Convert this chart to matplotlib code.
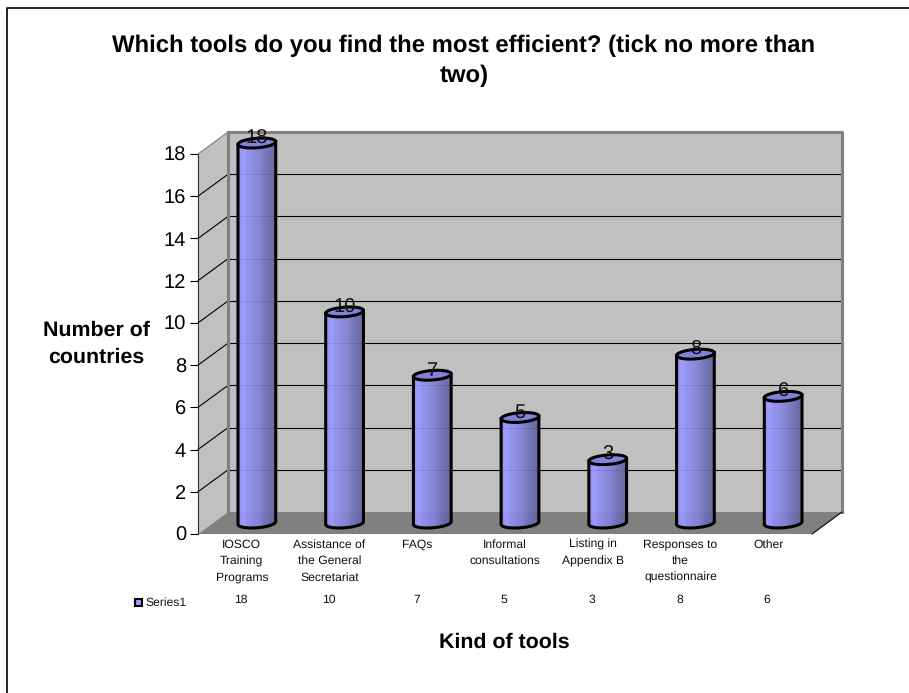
import numpy as np
import matplotlib
matplotlib.use('Agg')
import matplotlib.pyplot as plt
from matplotlib.lines import Line2D
from matplotlib.patches import PathPatch, Polygon
from matplotlib.patches import Rectangle
from matplotlib.path import Path

categories = ['IOSCO\nTraining\nPrograms', 'Assistance of\nthe General\nSecretariat', 'FAQs',
              'Informal\nconsultations', 'Listing in\nAppendix B', 'Responses to\nthe\nquestionnaire', 'Other']
counts = [18, 10, 7, 5, 3, 8, 6]
y_ticks = [0, 2, 4, 6, 8, 10, 12, 14, 16, 18]

W, H = 909, 693
DEPTH_X = 0.342   # wall depth, in category units
DEPTH_Y = 1.04    # wall depth, in value units
BAR_W = 0.43
CAP_H = 0.45
TILT = 0.13       # caps lean up to the right


def cap_points(cx, cy, theta):
    px = BAR_W / 2 * np.cos(theta)
    py = CAP_H / 2 * np.sin(theta) + TILT * px / BAR_W
    return np.column_stack([cx + px, cy + py])


plt.rcParams['font.family'] = ['Liberation Sans', 'DejaVu Sans']
plt.rcParams['text.hinting'] = 'no_hinting'

fig = plt.figure(figsize=(W / 100, H / 100), dpi=100)
# page frame, only left and top
fig.add_artist(Line2D([7.5 / W, 7.5 / W, 1], [0, 1 - 8 / H, 1 - 8 / H], transform=fig.transFigure,
                      color='black', lw=1.2))

# front plane of the 3d box
ax = fig.add_axes([198 / W, 1 - 534 / H, 614 / W, 380 / H])
ax.patch.set_visible(False)
n = len(counts)
x0, x1 = -0.5, 6.5
top = 18
ax.set_xlim(x0, x1)
ax.set_ylim(0, top)

# walls and floor
ax.add_patch(Polygon([(x0 + DEPTH_X, DEPTH_Y), (x1 + DEPTH_X, DEPTH_Y), (x1 + DEPTH_X, top + DEPTH_Y),
                      (x0 + DEPTH_X, top + DEPTH_Y)], facecolor='#c0c0c0', edgecolor='none', clip_on=False, zorder=1))
ax.add_patch(Polygon([(x0, 0), (x0 + DEPTH_X, DEPTH_Y), (x0 + DEPTH_X, top + DEPTH_Y), (x0, top)],
                     facecolor='#c0c0c0', edgecolor='none', clip_on=False, zorder=1))
ax.add_patch(Polygon([(x0, 0), (x0 + DEPTH_X, DEPTH_Y), (x1 + DEPTH_X, DEPTH_Y), (x1, 0)],
                     facecolor='#808080', edgecolor='none', clip_on=False, zorder=1))

# gridlines run along the side wall, then the back wall
for t in y_ticks[1:]:
    ax.plot([x0, x0 + DEPTH_X], [t, t + DEPTH_Y], color='#808080' if t == top else 'black', lw=0.8,
            clip_on=False, zorder=2)
    if t != top:
        ax.plot([x0 + DEPTH_X, x1 + DEPTH_X], [t + DEPTH_Y, t + DEPTH_Y], color='black', lw=0.8,
                clip_on=False, zorder=2)

# thick grey wall edges
ax.plot([x0 + DEPTH_X, x0 + DEPTH_X], [DEPTH_Y, top + DEPTH_Y], color='#808080', lw=2.2, clip_on=False, zorder=2)
ax.plot([x0 + DEPTH_X, x1 + DEPTH_X, x1 + DEPTH_X], [top + DEPTH_Y, top + DEPTH_Y, DEPTH_Y], color='#808080',
        lw=2.2, clip_on=False, zorder=2)
ax.plot([x1, x1 + DEPTH_X], [0, DEPTH_Y], color='black', lw=0.8, clip_on=False, zorder=2)

# cylinders
shade = np.array([[0.58, 0.58, 0.98], [0.60, 0.60, 1.00], [0.60, 0.60, 1.00], [0.57, 0.57, 0.95],
                  [0.56, 0.56, 0.93], [0.54, 0.54, 0.90], [0.53, 0.53, 0.87], [0.51, 0.51, 0.84],
                  [0.50, 0.50, 0.81], [0.47, 0.47, 0.77], [0.44, 0.44, 0.72], [0.42, 0.42, 0.69],
                  [0.41, 0.41, 0.66], [0.40, 0.40, 0.64]])
lower = np.linspace(np.pi, 2 * np.pi, 40)
whole = np.linspace(0, 2 * np.pi, 80)
for i, v in enumerate(counts):
    cx = i + DEPTH_X / 2
    cy = DEPTH_Y / 2
    base = cap_points(cx, cy, lower)
    upper = cap_points(cx, v + cy, lower[[-1, 0]])
    outline = np.vstack([base, upper, base[:1]])
    patch = PathPatch(Path(outline, closed=True), facecolor='none', edgecolor='black', lw=2.2, clip_on=False,
                      zorder=4)
    ax.add_patch(patch)
    im = ax.imshow(shade[np.newaxis, :, :], extent=[cx - BAR_W / 2, cx + BAR_W / 2, 0, v + cy + 1], aspect='auto',
                   interpolation='nearest', zorder=3, alpha=0.93)
    im.set_clip_box(fig.bbox)
    im.set_clip_path(patch)
    ax.add_patch(Polygon(cap_points(cx, v + cy, whole), facecolor='#8282d8', edgecolor='black', lw=2.2,
                         clip_on=False, zorder=5))
    ax.text(cx, v + cy + 0.22, str(v), ha='center', va='center', fontsize=14.5, color='#111111', zorder=6)

ax.set_xlim(x0, x1)
ax.set_ylim(0, top)

for side in ['top', 'right', 'bottom']:
    ax.spines[side].set_visible(False)
ax.spines['left'].set_color('#303030')
ax.spines['left'].set_linewidth(0.8)
ax.spines['left'].set_zorder(2)
ax.set_yticks(y_ticks)
ax.tick_params(axis='y', labelsize=14.5, length=6, width=0.8, pad=2.5)
ax.set_xticks(range(n))
ax.set_xticklabels(categories, fontsize=8.7, linespacing=1.62, va='top', color='#111111')
ax.tick_params(axis='x', length=0, pad=3.5)

# data table row under the axis
for i, v in enumerate(counts):
    ax.annotate(str(v), (i, 0), xytext=(-1, -66), textcoords='offset pixels', ha='center', va='center',
                fontsize=8.7, color='#111111')
fig.add_artist(Rectangle((135 / W, 1 - 606 / H), 7 / W, 7 / H, transform=fig.transFigure,
                         facecolor='#9999ff', edgecolor='black', linewidth=1.5))
fig.text(145 / W, 1 - 602.5 / H, 'Series1', fontsize=8.7, ha='left', va='center', color='#111111')

fig.text(464 / W, 1 - 60.5 / H, 'Which tools do you find the most efficient? (tick no more than\ntwo)',
         fontsize=17.2, fontweight='bold', ha='center', va='center', linespacing=1.45)
fig.text(96.5 / W, 1 - 344 / H, 'Number of\ncountries', fontsize=15.4, fontweight='bold', ha='center', va='center',
         linespacing=1.5)
fig.text(504 / W, 1 - 642 / H, 'Kind of tools', fontsize=15.4, fontweight='bold', ha='center', va='center')

fig.savefig('out.png', dpi=100)
